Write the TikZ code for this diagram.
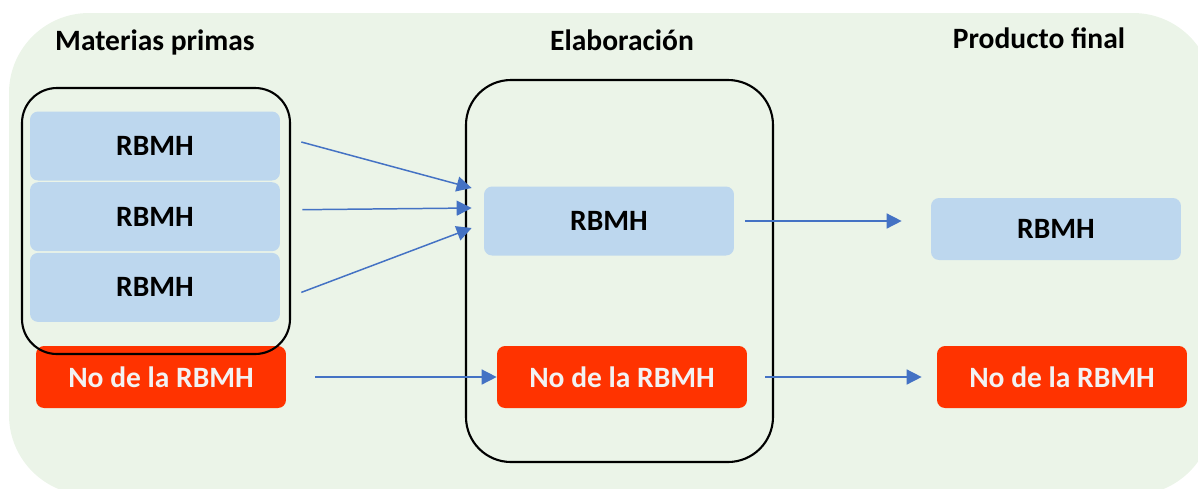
\documentclass[tikz,border=0pt]{standalone}
\usepackage{fontspec}
\setmainfont{Carlito}
\usetikzlibrary{positioning,arrows.meta}
\definecolor{fondo}{HTML}{EBF4E8}
\definecolor{azulcaja}{HTML}{BDD7EE}
\definecolor{rojocaja}{HTML}{FF3300}
\definecolor{flechaazul}{HTML}{4472C4}
\tikzset{
  caja/.style={fill=azulcaja, rounded corners=0.16cm, minimum width=5cm, minimum height=1.38cm, font=\bfseries\fontsize{16.8}{19}\selectfont},
  cajaroja/.style={caja, fill=rojocaja, text=white!95!black, minimum height=1.24cm},
  titulo/.style={font=\bfseries\fontsize{16.8}{19}\selectfont},
  grupo/.style={draw, line width=1.2pt},
  flecha/.style={draw=flechaazul, line width=0.85pt, -{Triangle[length=0.3cm,width=0.3cm]}}
}
\begin{document}
\begin{tikzpicture}[x=0.02cm,y=-0.02cm]
\useasboundingbox (0,0) rectangle (1198,488);
\fill[fondo, rounded corners=1.6cm] (9,13) rectangle (1213,495);
\node[titulo] (tMat) at (155,42) {Materias primas};
\node[titulo] (tElab) at (622,40) {Elaboración};
\node[titulo] (tProd) at (1039,38) {Producto final};
\node[caja] (mp1) at (155,146) {RBMH};
\node[caja, below=0.02cm of mp1] (mp2) {RBMH};
\node[caja, below=0.02cm of mp2] (mp3) {RBMH};
\node[cajaroja] (mpR) at (161,377) {No de la RBMH};
\draw[grupo, rounded corners=0.7cm] (22,88) rectangle (290,354);
\node[caja] (elab) at (609,221) {RBMH};
\node[cajaroja] (elabR) at (622,377) {No de la RBMH};
\draw[grupo, rounded corners=0.9cm] (466,80) rectangle (773,462);
\node[caja, minimum height=1.24cm] (prod) at (1056,229) {RBMH};
\node[cajaroja] (prodR) at (1062,377) {No de la RBMH};
\coordinate (llegada) at (elab.east -| prod.west);
\draw[flecha] ([xshift=0.42cm, yshift=0.08cm]mp1.east) -- ([xshift=-0.24cm, yshift=0.66cm]elab.west);
\draw[flecha] ([xshift=0.44cm, yshift=0.14cm]mp2.east) -- ([xshift=-0.24cm, yshift=0.26cm]elab.west);
\draw[flecha] ([xshift=0.42cm, yshift=-0.1cm]mp3.east) -- ([xshift=-0.24cm, yshift=-0.14cm]elab.west);
\draw[flecha] ([xshift=0.22cm]elab.east) -- ([xshift=-0.58cm]llegada);
\draw[flecha] ([xshift=0.58cm]mpR.east) -- (elabR.west);
\draw[flecha] ([xshift=0.36cm]elabR.east) -- ([xshift=-0.3cm]prodR.west);
\end{tikzpicture}
\end{document}
